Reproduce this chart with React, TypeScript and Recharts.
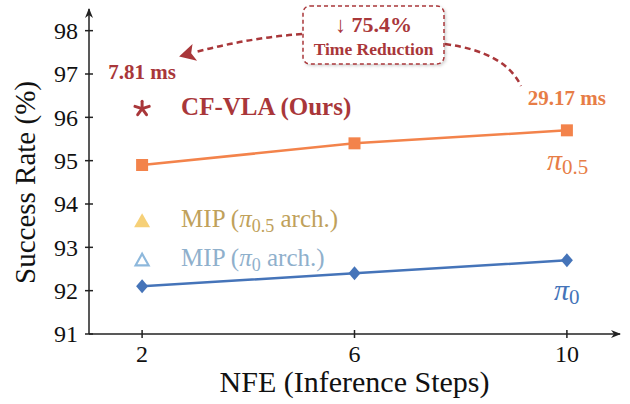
import { ComposedChart, Line, Scatter, XAxis, YAxis, LabelList } from "recharts";

// NFE steps and success rates (%)
const nfeSteps = [2, 6, 10];
const pi05Success = [94.9, 95.4, 95.7];
const pi0Success = [92.1, 92.4, 92.7];
const cfVlaPoint = [{ nfe: 2, success: 96.2 }];
const mipPi05Point = [{ nfe: 2, success: 93.6 }];
const mipPi0Point = [{ nfe: 2, success: 92.7 }];
const xTicks = [2, 6, 10];
const yTicks = [91, 92, 93, 94, 95, 96, 97, 98];
const cfVlaLatency = "7.81 ms";
const pi05Latency = "29.17 ms";
const reductionPct = "75.4%";

const chartData = nfeSteps.map((nfe, i) => ({ nfe, pi05: pi05Success[i], pi0: pi0Success[i] }));

const serif = '"Liberation Serif", "Times New Roman", serif';
const axisColor = "#222";
const orange = "#F3834B";
const orangeText = "#E77D46";
const blue = "#4574B9";
const darkRed = "#A9373A";
const gold = "#C0A15B";
const yellow = "#F6D077";
const lightBlue = "#8DB8DC";
const lightBlueText = "#8FB0CC";

const XTick = ({ x, y, payload }: any) => (
  <g>
    <line x1={x} x2={x} y1={y - 14} y2={y - 6} stroke={axisColor} strokeWidth={1.5} />
    <text x={x} y={y} dy="0.76em" textAnchor="middle" fontFamily={serif} fontSize={24} fill="#111">
      {payload.value}
    </text>
  </g>
);

const YTick = ({ x, y, payload }: any) => (
  <g>
    <line x1={x + 7} x2={x + 15} y1={y} y2={y} stroke={axisColor} strokeWidth={1.5} />
    <text x={x} y={y} dy="0.35em" textAnchor="end" fontFamily={serif} fontSize={24} fill="#111">
      {payload.value}
    </text>
  </g>
);

const SquareDot = ({ cx, cy, index }: any) => (
  <rect key={`sq-${index}`} x={cx - 6} y={cy - 6} width={12} height={12} fill={orange} />
);

const DiamondDot = ({ cx, cy, index }: any) => (
  <polygon
    key={`dm-${index}`}
    points={`${cx},${cy - 7} ${cx + 6},${cy} ${cx},${cy + 7} ${cx - 6},${cy}`}
    fill={blue}
  />
);

const StarShape = ({ cx, cy }: any) => {
  const arms = [-90, -18, 54, 126, 198];
  return (
    <g>
      {arms.map((a) => (
        <line
          key={a}
          x1={cx}
          y1={cy}
          x2={cx + 7.5 * Math.cos((a * Math.PI) / 180)}
          y2={cy + 7.5 * Math.sin((a * Math.PI) / 180)}
          stroke={darkRed}
          strokeWidth={3}
          strokeLinecap="round"
        />
      ))}
      <text x={cx + 39} y={cy + 6} fontFamily={serif} fontSize={25} fontWeight="bold" fill={darkRed}>
        CF-VLA (Ours)
      </text>
      <text x={cx} y={cy - 30} textAnchor="middle" fontFamily={serif} fontSize={21} fontWeight="bold" fill={darkRed}>
        {cfVlaLatency}
      </text>
    </g>
  );
};

const MipPi05Shape = ({ cx, cy }: any) => (
  <g>
    <polygon points={`${cx},${cy - 8} ${cx + 8},${cy + 6} ${cx - 8},${cy + 6}`} fill={yellow} />
    <text x={cx + 39} y={cy + 6} fontFamily={serif} fontSize={25} fill={gold}>
      MIP (<tspan fontStyle="italic">π</tspan>
      <tspan fontSize={18} dy={5}>0.5</tspan>
      <tspan dy={-5}> arch.)</tspan>
    </text>
  </g>
);

const MipPi0Shape = ({ cx, cy }: any) => (
  <g>
    <polygon
      points={`${cx},${cy - 6.5} ${cx + 6.5},${cy + 5} ${cx - 6.5},${cy + 5}`}
      fill="none"
      stroke={lightBlue}
      strokeWidth={2.2}
    />
    <text x={cx + 39} y={cy + 6} fontFamily={serif} fontSize={25} fill={lightBlueText}>
      MIP (<tspan fontStyle="italic">π</tspan>
      <tspan fontSize={18} dy={5}>0</tspan>
      <tspan dy={-5}> arch.)</tspan>
    </text>
  </g>
);

const Pi05Label = ({ x, y, index }: any) => {
  if (index !== 2) return null;
  return (
    <g>
      <text x={x} y={y - 25} textAnchor="middle" fontFamily={serif} fontSize={21} fontWeight="bold" fill={orangeText}>
        {pi05Latency}
      </text>
      <text x={x - 20} y={y + 40} fontFamily={serif} fontSize={30} fill={orangeText}>
        <tspan fontStyle="italic">π</tspan>
        <tspan fontSize={21} dy={4}>0.5</tspan>
      </text>
    </g>
  );
};

const Pi0Label = ({ x, y, index }: any) => {
  if (index !== 2) return null;
  return (
    <text x={x - 13} y={y + 40} fontFamily={serif} fontSize={30} fill={blue}>
      <tspan fontStyle="italic">π</tspan>
      <tspan fontSize={21} dy={4}>0</tspan>
    </text>
  );
};

const XTitle = ({ viewBox }: any) => (
  <text x={viewBox.x + viewBox.width / 2} y={viewBox.y + 58} textAnchor="middle" fontFamily={serif} fontSize={30} fill="#111">
    NFE (Inference Steps)
  </text>
);

const YTitle = ({ viewBox }: any) => {
  const cx = 35;
  const cy = viewBox.y + viewBox.height / 2 + 11;
  return (
    <text x={cx} y={cy} transform={`rotate(-90 ${cx} ${cy})`} textAnchor="middle" fontFamily={serif} fontSize={29} fill="#111">
      Success Rate (%)
    </text>
  );
};

export default function App() {
  return (
    <div style={{ position: "absolute", left: 0, top: 0, width: 630, height: 404, background: "#fff", fontFamily: serif }}>
      <ComposedChart width={630} height={404} data={chartData} margin={{ top: 9, right: 10, bottom: 0, left: 0 }}>
        <XAxis
          type="number"
          dataKey="nfe"
          domain={[1, 11]}
          ticks={xTicks}
          interval={0}
          height={70}
          tickSize={0}
          tickMargin={10}
          tickLine={false}
          axisLine={{ stroke: axisColor, strokeWidth: 1.5 }}
          tick={(p: any) => <XTick {...p} />}
          label={{ content: (p: any) => <XTitle {...p} /> }}
        />
        <YAxis
          type="number"
          domain={[91, 98.5]}
          ticks={yTicks}
          interval={0}
          width={89}
          tickSize={0}
          tickMargin={11}
          tickLine={false}
          axisLine={{ stroke: axisColor, strokeWidth: 1.5 }}
          tick={(p: any) => <YTick {...p} />}
          label={{ content: (p: any) => <YTitle {...p} /> }}
        />
        <Line
          dataKey="pi05"
          stroke={orange}
          strokeWidth={2.5}
          dot={(p: any) => <SquareDot {...p} />}
          activeDot={false}
          isAnimationActive={false}
        >
          <LabelList dataKey="pi05" content={(p: any) => <Pi05Label {...p} />} />
        </Line>
        <Line
          dataKey="pi0"
          stroke={blue}
          strokeWidth={2.5}
          dot={(p: any) => <DiamondDot {...p} />}
          activeDot={false}
          isAnimationActive={false}
        >
          <LabelList dataKey="pi0" content={(p: any) => <Pi0Label {...p} />} />
        </Line>
        <Scatter data={cfVlaPoint} dataKey="success" shape={(p: any) => <StarShape {...p} />} isAnimationActive={false} />
        <Scatter data={mipPi05Point} dataKey="success" shape={(p: any) => <MipPi05Shape {...p} />} isAnimationActive={false} />
        <Scatter data={mipPi0Point} dataKey="success" shape={(p: any) => <MipPi0Shape {...p} />} isAnimationActive={false} />
      </ComposedChart>

      {/* axis arrowheads and the time-reduction callout */}
      <svg width={630} height={404} style={{ position: "absolute", left: 0, top: 0, pointerEvents: "none" }}>
        <defs>
          <marker id="callout-head" markerWidth={8} markerHeight={8} refX={1} refY={4} orient="auto" markerUnits="strokeWidth">
            <path d="M0,4 L6.5,0.5 L5,4 L6.5,7.5 Z" fill={darkRed} transform="rotate(180 4 4)" />
          </marker>
          <filter id="soft" x="-10%" y="-10%" width="130%" height="140%">
            <feDropShadow dx="1.5" dy="1.5" stdDeviation="1.5" floodColor="#000" floodOpacity="0.18" />
          </filter>
        </defs>
        <path d="M89,8 L85,18 L89,15 L93,18 Z" fill={axisColor} />
        <path d="M621,334 L611,330 L614,334 L611,338 Z" fill={axisColor} />

        <path d="M302,34 Q248,38 196,52" fill="none" stroke={darkRed} strokeWidth={2.5} strokeDasharray="6 4" markerEnd="url(#callout-head)" />
        <path d="M445,44 Q505,52 521,86" fill="none" stroke={darkRed} strokeWidth={2.5} strokeDasharray="6 4" />

        <rect x={303} y={6} width={141} height={58} rx={7} fill="#fff" stroke={darkRed} strokeWidth={1.5} strokeDasharray="4 3" filter="url(#soft)" />
        <text x={373.5} y={32} textAnchor="middle" fontFamily={serif} fontSize={22} fill={darkRed}>
          ↓ <tspan fontWeight="bold">{reductionPct}</tspan>
        </text>
        <text x={373.5} y={55} textAnchor="middle" fontFamily={serif} fontSize={17.5} fontWeight="bold" fill={darkRed}>
          Time Reduction
        </text>
      </svg>
    </div>
  );
}
